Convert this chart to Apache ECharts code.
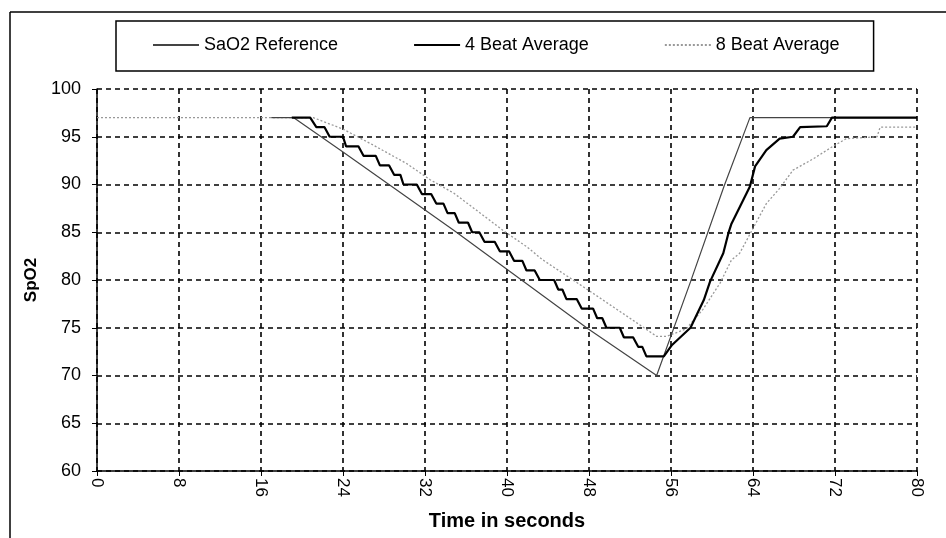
<!DOCTYPE html>
<html>
<head>
    <meta charset="UTF-8">
    <title>SpO2</title>
    <style>
        html, body {
            margin: 0;
            padding: 0;
            background: #fff;
        }

        #chart {
            width: 946px;
            height: 538px;
        }
    </style>
</head>
<body>
<div id="chart"></div>
<script src="https://cdn.jsdelivr.net/npm/echarts@6/dist/echarts.min.js"></script>
<script>
    // [seconds, value]
    var sao2Ref = [
        [17, 97], [19.2, 97], [24, 93.4], [34.8, 85.2], [47.9, 74.9], [54.6, 70],
        [57.9, 79.8], [61.2, 89.9], [63.7, 97], [80, 97]
    ];
    var beat4 = [
        [19, 97], [20.8, 97], [21.4, 96], [22.2, 96], [22.7, 95], [24.0, 95], [24.3, 94], [25.5, 94],
        [26.0, 93], [27.2, 93], [27.6, 92], [28.5, 92], [29.0, 91], [29.6, 91], [29.9, 90], [31.2, 90],
        [31.7, 89], [32.6, 89], [33.1, 88], [33.8, 88], [34.2, 87], [34.9, 87], [35.3, 86], [36.2, 86],
        [36.6, 85], [37.3, 85], [37.8, 84], [38.8, 84], [39.3, 83], [40.2, 83], [40.7, 82], [41.5, 82],
        [41.9, 81], [42.7, 81], [43.2, 80], [44.6, 80], [45.0, 79], [45.4, 79], [45.8, 78], [46.8, 78],
        [47.3, 77], [48.4, 77], [48.8, 76], [49.3, 76], [49.7, 75], [51.0, 75], [51.4, 74], [52.3, 74],
        [52.8, 73], [53.2, 73], [53.6, 72], [55.3, 72], [56.1, 73.2], [57.9, 75], [59.2, 77.9],
        [59.8, 79.8], [61.1, 82.8], [61.6, 84.9], [61.9, 85.9], [63.7, 89.8], [64.2, 91.9],
        [65.3, 93.6], [66.6, 94.8], [67.9, 95], [68.6, 96], [71.2, 96.1], [71.7, 97], [80, 97]
    ];
    var beat8 = [
        [0, 97], [21.1, 97], [24, 95.8], [27, 94.1], [30.2, 92.2], [32.5, 90.5], [34.8, 89.1],
        [37.4, 87.0], [39.6, 85.2], [41.9, 83.5], [43.5, 82.1], [48.4, 78.6], [51.3, 76.5],
        [54.6, 74.1], [55.6, 74.1], [57.5, 74.9], [59.1, 76.9], [60.8, 79.7], [61.9, 82.1],
        [62.7, 82.8], [63.9, 85.2], [65.3, 88.0], [66.6, 89.6], [67.9, 91.5], [69.9, 92.7],
        [71.8, 94.0], [73.1, 94.8], [76.1, 95], [76.4, 96], [80, 96]
    ];
    var seriesNames = ['SaO2 Reference', '4 Beat Average', '8 Beat Average'];

    var font = 'Arial, "Liberation Sans", sans-serif';
    var gridLine = {show: true, lineStyle: {color: '#000', type: [5, 4], width: 1.6}};

    var chart = echarts.init(document.getElementById('chart'));
    chart.setOption({
        animation: false,
        backgroundColor: '#fff',
        textStyle: {fontFamily: font, color: '#000'},
        graphic: [
            {type: 'line', shape: {x1: 10, y1: 12, x2: 946, y2: 12}, style: {stroke: '#000', lineWidth: 1.5}},
            {type: 'line', shape: {x1: 10, y1: 12, x2: 10, y2: 538}, style: {stroke: '#000', lineWidth: 1.5}}
        ],
        legend: {
            data: seriesNames,
            left: 116,
            top: 21,
            padding: [14, 34, 16, 36],
            itemGap: 75,
            itemWidth: 46,
            itemHeight: 14,
            borderColor: '#000',
            borderWidth: 1.5,
            borderRadius: 0,
            selectedMode: false,
            itemStyle: {opacity: 0},
            textStyle: {fontFamily: font, fontSize: 18, color: '#000', lineHeight: 20}
        },
        grid: {left: 97, right: 29, top: 89, bottom: 67},
        xAxis: {
            type: 'value',
            min: 0,
            max: 80,
            interval: 8,
            name: 'Time in seconds',
            nameLocation: 'middle',
            nameGap: 40,
            nameTextStyle: {fontFamily: font, fontSize: 20, fontWeight: 'bold', color: '#000'},
            axisLine: {lineStyle: {color: '#000', width: 1.5}},
            axisTick: {show: true, length: 5, lineStyle: {color: '#000'}},
            axisLabel: {rotate: -90, margin: 7, fontSize: 17, color: '#000'},
            splitLine: gridLine
        },
        yAxis: {
            type: 'value',
            min: 60,
            max: 100,
            interval: 5,
            name: 'SpO2',
            nameLocation: 'middle',
            nameGap: 56,
            nameRotate: 90,
            nameTextStyle: {fontFamily: font, fontSize: 17, fontWeight: 'bold', color: '#000'},
            axisLine: {show: true, lineStyle: {color: '#000', width: 1.5}},
            axisTick: {show: true, length: 5, lineStyle: {color: '#000'}},
            axisLabel: {margin: 16, fontSize: 18, color: '#000'},
            splitLine: gridLine
        },
        series: [
            {
                name: seriesNames[0], type: 'line', data: sao2Ref, symbol: 'none', z: 3,
                itemStyle: {color: '#444'},
                lineStyle: {color: '#444', width: 1.2}
            },
            {
                name: seriesNames[1], type: 'line', data: beat4, symbol: 'none', z: 4,
                itemStyle: {color: '#000'},
                lineStyle: {color: '#000', width: 2.2}
            },
            {
                name: seriesNames[2], type: 'line', data: beat8, symbol: 'none', z: 2,
                itemStyle: {color: '#999'},
                lineStyle: {color: '#999', width: 1.3, type: [2, 2]}
            }
        ]
    });
</script>
</body>
</html>
